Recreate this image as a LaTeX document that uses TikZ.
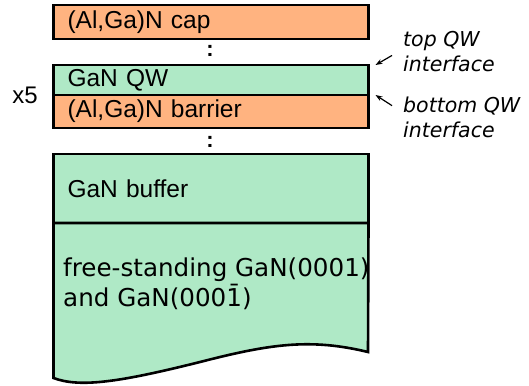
\documentclass[tikz,border=0pt]{standalone}
\usepackage{fontspec}
\setmainfont{Liberation Sans}
\newfontfamily\dejavu{DejaVu Sans}
\usetikzlibrary{positioning,arrows.meta}
\definecolor{algan}{HTML}{FFB380}
\definecolor{gan}{HTML}{AFE9C6}

\begin{document}
\begin{tikzpicture}[x=1pt, y=-1pt,
        layer/.style={draw, line width=2.6pt, outer sep=0pt, text width=287pt,
            inner xsep=14pt, inner ysep=0pt, align=left, font=\fontsize{24.5}{29}\selectfont},
        note/.style={font=\dejavu\itshape\fontsize{20.5}{25}\selectfont, align=left, inner sep=0pt},
        dots/.style={font=\bfseries\fontsize{22}{22}\selectfont, inner sep=0pt}]
    \useasboundingbox (0,0) rectangle (529,385);

    % layer stack
    \node[layer, fill=algan, minimum height=34pt, anchor=north west] (cap) at (53.5,5) {(Al,Ga)N cap};
    \node[dots] (dotsA) at (210,51) {:};
    \node[layer, fill=gan, minimum height=30pt, anchor=north west] (qw) at (53.5,65) {GaN QW};
    \node[layer, fill=algan, minimum height=33pt, below=0pt of qw] (barrier) {(Al,Ga)N barrier};
    \node[dots] (dotsB) at (210,142) {:};
    \node[layer, fill=gan, minimum height=69pt, anchor=north west] (buffer) at (53.5,154) {GaN buffer};

    % substrate with broken-off bottom
    \draw[fill=gan, line width=2.6pt] (buffer.south west) -- (53.5,378)
        .. controls (80,388) and (120,382) .. (200,362)
        .. controls (270,344) and (310,338) .. (368,352) -- (buffer.south east) -- cycle;
    \node[font=\dejavu\fontsize{24.6}{30}\selectfont, align=left, inner sep=0pt, anchor=north west]
        (subtxt) at (63,258) {free-standing GaN(0001)\\and GaN(000\={1})};

    \node[font=\fontsize{24}{28}\selectfont, anchor=base, inner sep=0pt] (rep) at (25,103) {x5};

    % interfaces
    \node[note, anchor=north west] (toplbl) at (403,31) {top QW\\interface};
    \node[note, anchor=north west] (botlbl) at (403,97) {bottom QW\\interface};
    \draw[-{Stealth[length=7pt,width=5pt]}, line width=1.2pt]
        (toplbl.west) ++(-11,4) -- ([xshift=7pt]qw.north east);
    \draw[-{Stealth[length=7pt,width=5pt]}, line width=1.2pt]
        (botlbl.west) ++(-11,-12) -- ([xshift=7pt]qw.south east);
\end{tikzpicture}
\end{document}
